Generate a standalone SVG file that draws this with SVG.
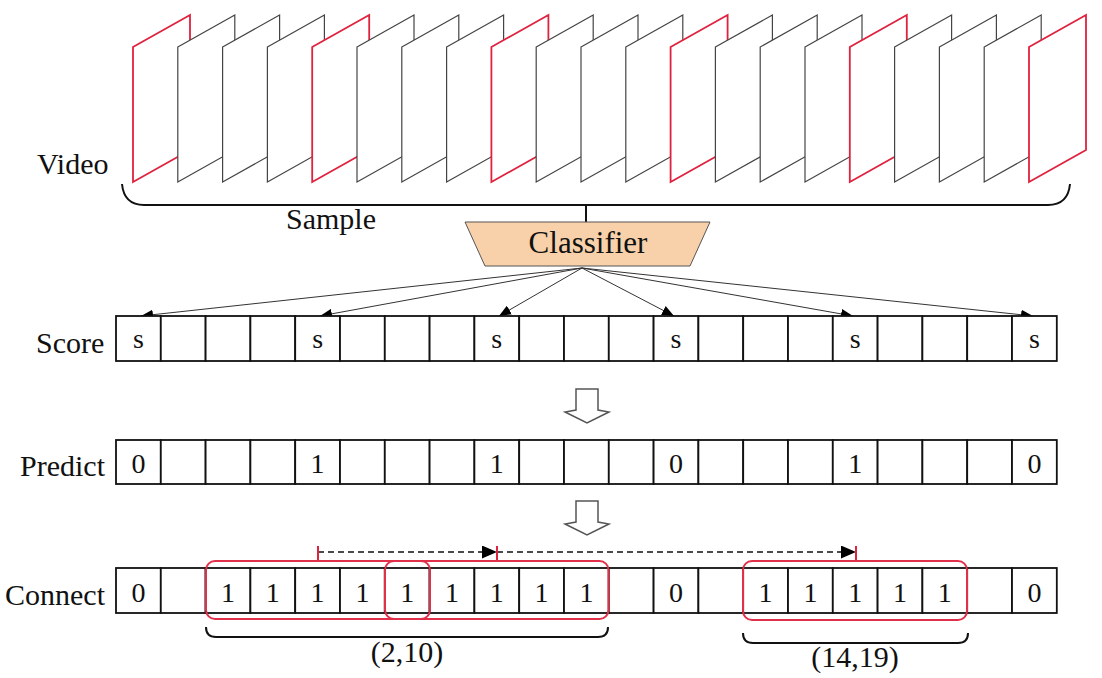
<svg xmlns="http://www.w3.org/2000/svg" width="1102" height="678" viewBox="0 0 1102 678">
<defs>
<style>
.fb{fill:#fff;stroke:#444;stroke-width:1.2}
.fr{fill:#fff;stroke:#e0223f;stroke-width:1.8}
.cell{fill:#fff;stroke:#111;stroke-width:1.8}
.lbl{font-family:"Liberation Serif","Times New Roman",serif;font-size:30px;fill:#111}
.ct{font-family:"Liberation Serif","Times New Roman",serif;font-size:28px;fill:#111;text-anchor:middle}
.br{fill:none;stroke:#111;stroke-width:2}
.con{fill:none;stroke:#333;stroke-width:1}
.dash{fill:none;stroke:#111;stroke-width:1.5;stroke-dasharray:6,4}
.tick{stroke:#e0223f;stroke-width:2}
.red{fill:none;stroke:#e0304a;stroke-width:2}
.hollow{fill:#fff;stroke:#555;stroke-width:1.5}
</style>
<marker id="ah" viewBox="0 0 12 10" refX="12" refY="5" markerWidth="12" markerHeight="10" markerUnits="userSpaceOnUse" orient="auto"><path d="M0,0 L12,5 L0,10 z" fill="#000"/></marker>
<marker id="ah2" viewBox="0 0 15 13" refX="15" refY="6.5" markerWidth="15" markerHeight="13" markerUnits="userSpaceOnUse" orient="auto"><path d="M0,0 L15,6.5 L0,13 z" fill="#000"/></marker>
</defs>
<rect width="1102" height="678" fill="#fff"/>

<g id="video">
<text class="lbl" x="37" y="174">Video</text>
<path class="fr" d="M133,47 L190,15 L190,150 L133,182 Z"/>
<path class="fb" d="M177.8,47 L234.8,15 L234.8,150 L177.8,182 Z"/>
<path class="fb" d="M222.6,47 L279.6,15 L279.6,150 L222.6,182 Z"/>
<path class="fb" d="M267.4,47 L324.4,15 L324.4,150 L267.4,182 Z"/>
<path class="fr" d="M312.2,47 L369.2,15 L369.2,150 L312.2,182 Z"/>
<path class="fb" d="M357,47 L414,15 L414,150 L357,182 Z"/>
<path class="fb" d="M401.8,47 L458.8,15 L458.8,150 L401.8,182 Z"/>
<path class="fb" d="M446.6,47 L503.6,15 L503.6,150 L446.6,182 Z"/>
<path class="fr" d="M491.4,47 L548.4,15 L548.4,150 L491.4,182 Z"/>
<path class="fb" d="M536.2,47 L593.2,15 L593.2,150 L536.2,182 Z"/>
<path class="fb" d="M581,47 L638,15 L638,150 L581,182 Z"/>
<path class="fb" d="M625.8,47 L682.8,15 L682.8,150 L625.8,182 Z"/>
<path class="fr" d="M670.6,47 L727.6,15 L727.6,150 L670.6,182 Z"/>
<path class="fb" d="M715.4,47 L772.4,15 L772.4,150 L715.4,182 Z"/>
<path class="fb" d="M760.2,47 L817.2,15 L817.2,150 L760.2,182 Z"/>
<path class="fb" d="M805,47 L862,15 L862,150 L805,182 Z"/>
<path class="fr" d="M849.8,47 L906.8,15 L906.8,150 L849.8,182 Z"/>
<path class="fb" d="M894.6,47 L951.6,15 L951.6,150 L894.6,182 Z"/>
<path class="fb" d="M939.4,47 L996.4,15 L996.4,150 L939.4,182 Z"/>
<path class="fb" d="M984.2,47 L1041.2,15 L1041.2,150 L984.2,182 Z"/>
<path class="fr" d="M1029,47 L1086,15 L1086,150 L1029,182 Z"/>
</g>

<g id="sample-brace">
<path class="br" d="M122,184 Q124,205 144,205 L1048,205 Q1068,205 1070,184"/>
<line class="br" x1="586" y1="205" x2="586" y2="222"/>
<text class="lbl" x="331" y="229" text-anchor="middle">Sample</text>
</g>

<g id="classifier">
<polygon points="465,222 710,222 690,266 485,266" fill="#f8d1aa" stroke="#555" stroke-width="1"/>
<text class="lbl" x="588" y="253" text-anchor="middle" style="font-size:31px">Classifier</text>
</g>

<g id="connectors">
<line class="con" x1="582" y1="268" x2="141" y2="316" marker-end="url(#ah)"/>
<line class="con" x1="582" y1="268" x2="320" y2="316" marker-end="url(#ah)"/>
<line class="con" x1="582" y1="268" x2="499" y2="316" marker-end="url(#ah)"/>
<line class="con" x1="582" y1="268" x2="674" y2="316" marker-end="url(#ah)"/>
<line class="con" x1="582" y1="268" x2="853" y2="316" marker-end="url(#ah)"/>
<line class="con" x1="582" y1="268" x2="1033" y2="316" marker-end="url(#ah)"/>
<polygon class="hollow" points="576,389 598,389 598,410 609,412 587,423 565,412 576,410"/>
<polygon class="hollow" points="576,501 598,501 598,522 609,524 587,535 565,524 576,522"/>
<line class="dash" x1="318" y1="552" x2="497" y2="552" marker-end="url(#ah2)"/>
<line class="dash" x1="497" y1="552" x2="856" y2="552" marker-end="url(#ah2)"/>
<line class="tick" x1="318" y1="546" x2="318" y2="561"/>
<line class="tick" x1="497" y1="546" x2="497" y2="561"/>
<line class="tick" x1="856" y1="546" x2="856" y2="562"/>
</g>

<g id="score">
<text class="lbl" x="36" y="353">Score</text>
<rect class="cell" x="116" y="316" width="44.8" height="45"/>
<rect class="cell" x="160.8" y="316" width="44.8" height="45"/>
<rect class="cell" x="205.6" y="316" width="44.8" height="45"/>
<rect class="cell" x="250.4" y="316" width="44.8" height="45"/>
<rect class="cell" x="295.2" y="316" width="44.8" height="45"/>
<rect class="cell" x="340" y="316" width="44.8" height="45"/>
<rect class="cell" x="384.8" y="316" width="44.8" height="45"/>
<rect class="cell" x="429.6" y="316" width="44.8" height="45"/>
<rect class="cell" x="474.4" y="316" width="44.8" height="45"/>
<rect class="cell" x="519.2" y="316" width="44.8" height="45"/>
<rect class="cell" x="564" y="316" width="44.8" height="45"/>
<rect class="cell" x="608.8" y="316" width="44.8" height="45"/>
<rect class="cell" x="653.6" y="316" width="44.8" height="45"/>
<rect class="cell" x="698.4" y="316" width="44.8" height="45"/>
<rect class="cell" x="743.2" y="316" width="44.8" height="45"/>
<rect class="cell" x="788" y="316" width="44.8" height="45"/>
<rect class="cell" x="832.8" y="316" width="44.8" height="45"/>
<rect class="cell" x="877.6" y="316" width="44.8" height="45"/>
<rect class="cell" x="922.4" y="316" width="44.8" height="45"/>
<rect class="cell" x="967.2" y="316" width="44.8" height="45"/>
<rect class="cell" x="1012" y="316" width="44.8" height="45"/>
<text class="ct" x="138.4" y="348">s</text>
<text class="ct" x="317.6" y="348">s</text>
<text class="ct" x="496.8" y="348">s</text>
<text class="ct" x="676" y="348">s</text>
<text class="ct" x="855.2" y="348">s</text>
<text class="ct" x="1034.4" y="348">s</text>
</g>

<g id="predict">
<text class="lbl" x="20" y="476">Predict</text>
<rect class="cell" x="116" y="440" width="44.8" height="44"/>
<rect class="cell" x="160.8" y="440" width="44.8" height="44"/>
<rect class="cell" x="205.6" y="440" width="44.8" height="44"/>
<rect class="cell" x="250.4" y="440" width="44.8" height="44"/>
<rect class="cell" x="295.2" y="440" width="44.8" height="44"/>
<rect class="cell" x="340" y="440" width="44.8" height="44"/>
<rect class="cell" x="384.8" y="440" width="44.8" height="44"/>
<rect class="cell" x="429.6" y="440" width="44.8" height="44"/>
<rect class="cell" x="474.4" y="440" width="44.8" height="44"/>
<rect class="cell" x="519.2" y="440" width="44.8" height="44"/>
<rect class="cell" x="564" y="440" width="44.8" height="44"/>
<rect class="cell" x="608.8" y="440" width="44.8" height="44"/>
<rect class="cell" x="653.6" y="440" width="44.8" height="44"/>
<rect class="cell" x="698.4" y="440" width="44.8" height="44"/>
<rect class="cell" x="743.2" y="440" width="44.8" height="44"/>
<rect class="cell" x="788" y="440" width="44.8" height="44"/>
<rect class="cell" x="832.8" y="440" width="44.8" height="44"/>
<rect class="cell" x="877.6" y="440" width="44.8" height="44"/>
<rect class="cell" x="922.4" y="440" width="44.8" height="44"/>
<rect class="cell" x="967.2" y="440" width="44.8" height="44"/>
<rect class="cell" x="1012" y="440" width="44.8" height="44"/>
<text class="ct" x="138.4" y="473">0</text>
<text class="ct" x="317.6" y="473">1</text>
<text class="ct" x="496.8" y="473">1</text>
<text class="ct" x="676" y="473">0</text>
<text class="ct" x="855.2" y="473">1</text>
<text class="ct" x="1034.4" y="473">0</text>
</g>

<g id="connect">
<text class="lbl" x="5" y="605">Connect</text>
<rect class="cell" x="116" y="568" width="44.8" height="45"/>
<rect class="cell" x="160.8" y="568" width="44.8" height="45"/>
<rect class="cell" x="205.6" y="568" width="44.8" height="45"/>
<rect class="cell" x="250.4" y="568" width="44.8" height="45"/>
<rect class="cell" x="295.2" y="568" width="44.8" height="45"/>
<rect class="cell" x="340" y="568" width="44.8" height="45"/>
<rect class="cell" x="384.8" y="568" width="44.8" height="45"/>
<rect class="cell" x="429.6" y="568" width="44.8" height="45"/>
<rect class="cell" x="474.4" y="568" width="44.8" height="45"/>
<rect class="cell" x="519.2" y="568" width="44.8" height="45"/>
<rect class="cell" x="564" y="568" width="44.8" height="45"/>
<rect class="cell" x="608.8" y="568" width="44.8" height="45"/>
<rect class="cell" x="653.6" y="568" width="44.8" height="45"/>
<rect class="cell" x="698.4" y="568" width="44.8" height="45"/>
<rect class="cell" x="743.2" y="568" width="44.8" height="45"/>
<rect class="cell" x="788" y="568" width="44.8" height="45"/>
<rect class="cell" x="832.8" y="568" width="44.8" height="45"/>
<rect class="cell" x="877.6" y="568" width="44.8" height="45"/>
<rect class="cell" x="922.4" y="568" width="44.8" height="45"/>
<rect class="cell" x="967.2" y="568" width="44.8" height="45"/>
<rect class="cell" x="1012" y="568" width="44.8" height="45"/>
<text class="ct" x="138.4" y="602">0</text>
<text class="ct" x="228" y="602">1</text>
<text class="ct" x="272.8" y="602">1</text>
<text class="ct" x="317.6" y="602">1</text>
<text class="ct" x="362.4" y="602">1</text>
<text class="ct" x="407.2" y="602">1</text>
<text class="ct" x="452" y="602">1</text>
<text class="ct" x="496.8" y="602">1</text>
<text class="ct" x="541.6" y="602">1</text>
<text class="ct" x="586.4" y="602">1</text>
<text class="ct" x="676" y="602">0</text>
<text class="ct" x="765.6" y="602">1</text>
<text class="ct" x="810.4" y="602">1</text>
<text class="ct" x="855.2" y="602">1</text>
<text class="ct" x="900" y="602">1</text>
<text class="ct" x="944.8" y="602">1</text>
<text class="ct" x="1034.4" y="602">0</text>
<rect class="red" x="206" y="561" width="402.5" height="58" rx="9"/>
<rect class="red" x="385" y="561" width="45" height="58" rx="9"/>
<rect class="red" x="743" y="561" width="224" height="59" rx="9"/>
</g>

<g id="range-left">
<path class="br" d="M206,627 Q206,637 216,637 L598,637 Q608,637 608,627"/>
<text class="lbl" x="407" y="662" text-anchor="middle">(2,10)</text>
</g>
<g id="range-right">
<path class="br" d="M743,633 Q743,643 753,643 L958,643 Q968,643 968,633"/>
<text class="lbl" x="855" y="667" text-anchor="middle">(14,19)</text>
</g>
</svg>
